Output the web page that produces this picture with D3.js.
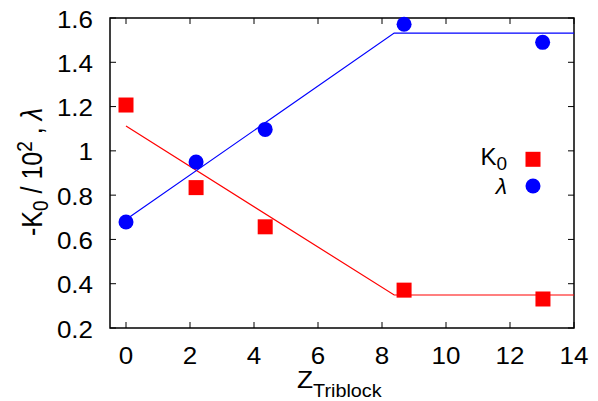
<!DOCTYPE html>
<html><head><meta charset="utf-8">
<script src="https://cdn.jsdelivr.net/npm/d3@7"></script>
<style>body{margin:0;background:#fff}svg{display:block;font-family:"Liberation Sans",Arial,sans-serif}</style>
</head><body><svg id="c" width="598" height="401"></svg>
<script>
const xTicks = [0, 2, 4, 6, 8, 10, 12, 14];
const yTicks = [0.2, 0.4, 0.6, 0.8, 1.0, 1.2, 1.4, 1.6];
const zK = [0, 2.19, 4.35, 8.69, 13.03];
const K0 = [1.207, 0.834, 0.657, 0.371, 0.331];
const zL = [0, 2.19, 4.35, 8.69, 13.02];
const lambda = [0.679, 0.950, 1.097, 1.572, 1.490];
const fitKx = [0, 8.38, 14];
const fitKy = [1.112, 0.349, 0.349];
const fitLx = [0, 8.38, 14];
const fitLy = [0.69, 1.532, 1.532];

const svg = d3.select("#c");
const L = 110, R = 574, T = 18, B = 328;
const x = d3.scaleLinear().domain([-0.5, 14]).range([L, R]);
const y = d3.scaleLinear().domain([0.2, 1.6]).range([B, T]);
const SX = 1.13;

// ticks (inward, mirrored)
const tk = 6;
const g = svg.append("g").attr("stroke", "#000").attr("stroke-width", 1);
xTicks.forEach(v => {
  g.append("line").attr("x1", x(v)).attr("x2", x(v)).attr("y1", B).attr("y2", B - tk);
  g.append("line").attr("x1", x(v)).attr("x2", x(v)).attr("y1", T).attr("y2", T + tk);
});
yTicks.forEach(v => {
  g.append("line").attr("x1", L).attr("x2", L + tk).attr("y1", y(v)).attr("y2", y(v));
  g.append("line").attr("x1", R).attr("x2", R - tk).attr("y1", y(v)).attr("y2", y(v));
});
svg.append("rect").attr("x", L).attr("y", T).attr("width", R - L).attr("height", B - T)
  .attr("fill", "none").attr("stroke", "#000").attr("stroke-width", 1.5);

// tick labels
svg.append("g").selectAll("text").data(xTicks).join("text")
  .attr("transform", d => `translate(${x(d)},364) scale(${SX},1)`).attr("text-anchor", "middle")
  .attr("font-size", 23).text(d => d);
svg.append("g").selectAll("text").data(yTicks).join("text")
  .attr("transform", d => `translate(93,${y(d) + 9.5}) scale(${SX},1)`).attr("text-anchor", "end")
  .attr("font-size", 23).text(d => d === 1 ? "1" : d.toFixed(1));

// fit lines
const line = d3.line().x(d => x(d[0])).y(d => y(d[1]));
svg.append("path").datum(d3.zip(fitKx, fitKy)).attr("d", line)
  .attr("fill", "none").attr("stroke", "#ff0000").attr("stroke-width", 1.2);
svg.append("path").datum(d3.zip(fitLx, fitLy)).attr("d", line)
  .attr("fill", "none").attr("stroke", "#0000ff").attr("stroke-width", 1.2);

// points
const s = 15;
svg.append("g").selectAll("rect").data(d3.zip(zK, K0)).join("rect")
  .attr("x", d => x(d[0]) - s / 2).attr("y", d => y(d[1]) - s / 2)
  .attr("width", s).attr("height", s).attr("fill", "#ff0000");
svg.append("g").selectAll("circle").data(d3.zip(zL, lambda)).join("circle")
  .attr("cx", d => x(d[0])).attr("cy", d => y(d[1])).attr("r", 7.5).attr("fill", "#0000ff");

// legend
const lg = svg.append("g");
lg.append("text").attr("x", 507).attr("y", 165).attr("text-anchor", "end").attr("font-size", 24)
  .html('K<tspan dy="5" font-size="19">0</tspan>');
lg.append("text").attr("x", 507).attr("y", 194).attr("text-anchor", "end").attr("font-size", 23)
  .attr("font-style", "italic").text("λ");
lg.append("rect").attr("x", 533 - s / 2).attr("y", 159.3 - s / 2).attr("width", s).attr("height", s).attr("fill", "#ff0000");
lg.append("circle").attr("cx", 533).attr("cy", 186).attr("r", 7.5).attr("fill", "#0000ff");

// axis titles
svg.append("text").attr("transform", "translate(42,172) scale(1.15,1) rotate(-90)").attr("text-anchor", "middle")
  .attr("font-size", 25)
  .html('-K<tspan dy="5" font-size="19">0</tspan><tspan dy="-5"> / 10</tspan><tspan dy="-9" font-size="19">2</tspan><tspan dy="9"> , </tspan><tspan font-style="italic">λ</tspan>');
svg.append("text").attr("transform", "translate(297,388) scale(1.1,1)").attr("font-size", 24)
  .html('Z<tspan dy="9" font-size="18">Triblock</tspan>');
</script></body></html>
